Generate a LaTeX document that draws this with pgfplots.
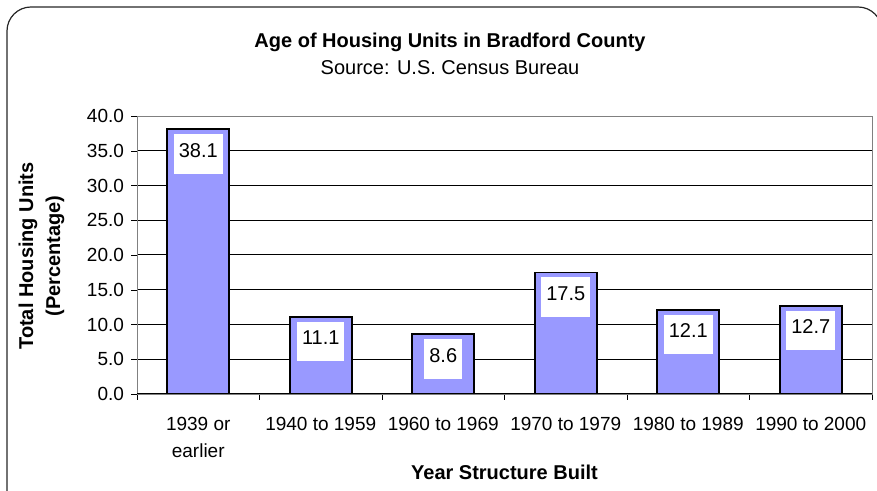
\documentclass[border=0pt]{standalone}
\usepackage{pgfplots}
\pgfplotsset{compat=1.18}
\usepackage{fontspec}
\setmainfont{Liberation Sans}
\definecolor{barblue}{HTML}{9999FF}
\begin{document}
\begin{tikzpicture}
\useasboundingbox (0,0) rectangle (438.5pt,245.5pt);
\begin{scope}
\clip (0,0) rectangle (438.5pt,245.5pt);
\draw[line width=0.6pt, black!85, rounded corners=12pt] (3.5pt,-10pt) -- (3.5pt,242pt) -- (441pt,242pt) -- (441pt,-10pt);
\end{scope}
\node[font=\bfseries\fontsize{10}{12}\selectfont] at (225pt,224.5pt) {Age of Housing Units in Bradford County};
\node[font=\fontsize{10}{12}\selectfont] at (225pt,211.5pt) {Source: U.S. Census Bureau};
\node[rotate=90, font=\bfseries\fontsize{10}{12}\selectfont] at (14pt,117.5pt) {Total Housing Units};
\node[rotate=90, font=\bfseries\fontsize{10}{12}\selectfont] at (27.5pt,117.5pt) {(Percentage)};
\node[font=\bfseries\fontsize{10}{12}\selectfont] at (252.25pt,9.5pt) {Year Structure Built};
\begin{axis}[
  at={(68.5pt,48.5pt)}, anchor=south west,
  scale only axis, width=367.5pt, height=139pt,
  xmin=-0.5, xmax=5.5, ymin=0, ymax=40,
  axis line style={gray},
  tick align=outside,
  xtick pos=bottom, ytick pos=left,
  major tick length=3pt,
  xtick={-0.5,0.5,1.5,2.5,3.5,4.5,5.5},
  xticklabels={},
  x tick style={black},
  extra x ticks={0,1,2,3,4,5},
  extra x tick labels={{1939 or\\earlier},{1940 to 1959},{1960 to 1969},{1970 to 1979},{1980 to 1989},{1990 to 2000}},
  extra x tick style={major tick length=0pt, grid=none, tick label style={align=center, yshift=-8pt}},
  ytick={0,5,...,40},
  y tick style={black},
  ymajorgrids, grid style={black, line width=0.5pt},
  tick label style={font=\fontsize{9.5}{13.5}\selectfont},
  /pgf/number format/assume math mode=true,
  yticklabel style={/pgf/number format/.cd, fixed, fixed zerofill, precision=1},
  ybar, bar width=31pt,
  nodes near coords,
  every node near coord/.append style={anchor=north, yshift=-2pt, fill=white, inner xsep=2.5pt, inner ysep=0pt, text height=11.6pt, text depth=8.2pt, font=\fontsize{10}{12}\selectfont, text=black},
]
\addplot[fill=barblue, draw=black, line width=0.8pt] coordinates {(0,38.1) (1,11.1) (2,8.6) (3,17.5) (4,12.1) (5,12.7)};
\draw[black, line width=0.5pt] (rel axis cs:0,0) -- (rel axis cs:1,0);
\end{axis}
\end{tikzpicture}
\end{document}
